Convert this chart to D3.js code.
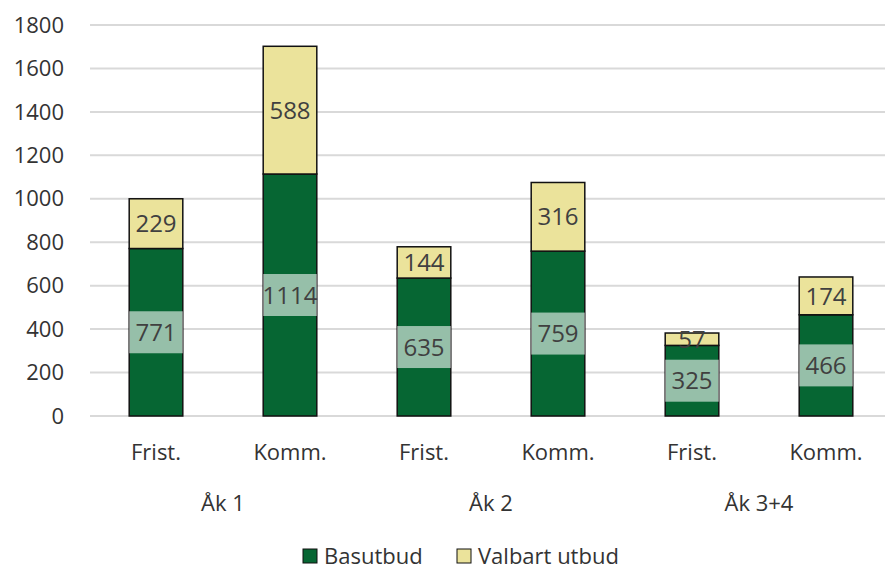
<!DOCTYPE html>
<html>
<head>
<meta charset="utf-8">
<script src="https://cdn.jsdelivr.net/npm/d3@7"></script>
<style>
  body { margin: 0; background: #fff; }
  text { font-family: "Open Sans", "Noto Sans", sans-serif; fill: #333; }
</style>
</head>
<body>
<script>
// chart data
var groups = ["Åk 1", "Åk 2", "Åk 3+4"];
var categories = ["Frist.", "Komm.", "Frist.", "Komm.", "Frist.", "Komm."];
var basutbud = [771, 1114, 635, 759, 325, 466];
var valbart = [229, 588, 144, 316, 57, 174];
var yTicks = [0, 200, 400, 600, 800, 1000, 1200, 1400, 1600, 1800];
var seriesNames = ["Basutbud", "Valbart utbud"];
var colors = ["#066633", "#ebe39b"];

var width = 885, height = 570;
var svg = d3.select("body").append("svg").attr("width", width).attr("height", height);

var x = d3.scaleBand().domain(d3.range(categories.length)).range([89, 893]).paddingInner(0.6).paddingOuter(0.3);
var y = d3.scaleLinear().domain([0, 1800]).range([416, 25]);

// gridlines
svg.append("g").selectAll("line").data(yTicks).enter().append("line")
  .attr("x1", 90).attr("x2", 885)
  .attr("y1", function(d) { return y(d); }).attr("y2", function(d) { return y(d); })
  .attr("stroke", "#d9d9d9").attr("stroke-width", 2);

// y axis labels
svg.append("g").selectAll("text").data(yTicks).enter().append("text")
  .attr("x", 64).attr("y", function(d) { return y(d); }).attr("dy", "0.35em")
  .attr("text-anchor", "end").style("font-size", "22px")
  .text(function(d) { return d; });

var stackData = categories.map(function(c, i) { return { i: i, b: basutbud[i], v: valbart[i] }; });
var stack = d3.stack().keys(["b", "v"])(stackData);

var layer = svg.selectAll(".layer").data(stack).enter().append("g")
  .attr("fill", function(d, k) { return colors[k]; });

layer.selectAll("rect").data(function(d) { return d; }).enter().append("rect")
  .attr("x", function(d) { return x(d.data.i); })
  .attr("width", x.bandwidth())
  .attr("y", function(d) { return y(d[1]); })
  .attr("height", function(d) { return y(d[0]) - y(d[1]); })
  .attr("stroke", "#111").attr("stroke-width", 1.5);

// basutbud labels with pale box
var bl = svg.append("g").selectAll("g").data(stack[0]).enter().append("g")
  .attr("transform", function(d) { return "translate(" + (x(d.data.i) + x.bandwidth() / 2) + "," + y((d[0] + d[1]) / 2) + ")"; });
bl.append("rect")
  .attr("x", -x.bandwidth() / 2).attr("width", x.bandwidth())
  .attr("y", -21).attr("height", 42)
  .attr("fill", "#fff").attr("fill-opacity", 0.58);
bl.append("text").attr("text-anchor", "middle").attr("dy", "0.36em")
  .style("font-size", "24px").style("fill", "#404040")
  .text(function(d) { return d.data.b; });

// valbart labels
svg.append("g").selectAll("text").data(stack[1]).enter().append("text")
  .attr("x", function(d) { return x(d.data.i) + x.bandwidth() / 2; })
  .attr("y", function(d) { return y((d[0] + d[1]) / 2); })
  .attr("dy", "0.36em").attr("text-anchor", "middle")
  .style("font-size", "24px").style("fill", "#404040")
  .text(function(d) { return d.data.v; });

// category labels
svg.append("g").selectAll("text").data(categories).enter().append("text")
  .attr("x", function(d, i) { return x(i) + x.bandwidth() / 2; })
  .attr("y", 452).attr("dy", "0.35em").attr("text-anchor", "middle")
  .style("font-size", "22px").text(function(d) { return d; });

// group labels
svg.append("g").selectAll("text").data(groups).enter().append("text")
  .attr("x", function(d, g) { return (x(g * 2) + x(g * 2 + 1) + x.bandwidth()) / 2; })
  .attr("y", 503).attr("dy", "0.35em").attr("text-anchor", "middle")
  .style("font-size", "22px").text(function(d) { return d; });

// legend
var legX = [303, 457];
var leg = svg.append("g").selectAll("g").data(seriesNames).enter().append("g")
  .attr("transform", function(d, i) { return "translate(" + legX[i] + ",556)"; });
leg.append("rect").attr("x", 0).attr("y", -7).attr("width", 14).attr("height", 14)
  .attr("fill", function(d, i) { return colors[i]; }).attr("stroke", "#111").attr("stroke-width", 1);
leg.append("text").attr("x", 21).attr("dy", "0.35em").style("font-size", "22px")
  .text(function(d) { return d; });
</script>
</body>
</html>
